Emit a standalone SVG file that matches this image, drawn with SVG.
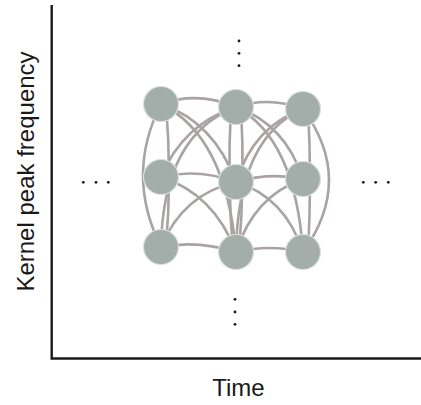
<svg xmlns="http://www.w3.org/2000/svg" width="421" height="405" viewBox="0 0 421 405">
<style>
.axis{stroke:#1a1a1a;stroke-width:2.4;fill:none}
.edge{stroke:#aaa3a3;stroke-width:2.6;fill:none;stroke-linecap:round}
.node{fill:#a3aeaa;stroke:#dbe2de;stroke-width:1.2}
.dot{fill:#1a1a1a}
.lbl{font-family:"Liberation Sans",Arial,sans-serif;font-size:24px;fill:#1a1a1a}
</style>
<rect width="421" height="405" fill="#ffffff"/>
<g id="axes">
<path class="axis" d="M51.7,5 V358.5 H421"/>
</g>
<g id="connectors">
<!-- left column to middle column -->
<path class="edge" d="M161,104 Q198,91 236,107"/>
<path class="edge" d="M161,104 Q214,122 236,182"/>
<path class="edge" d="M161,104 Q226,136 236,252"/>
<path class="edge" d="M161,177 Q183,124 236,107"/>
<path class="edge" d="M161,177 Q198,168 236,182"/>
<path class="edge" d="M161,177 Q214,194 236,252"/>
<path class="edge" d="M161,247 Q163,135 236,107"/>
<path class="edge" d="M161,247 Q183,194 236,182"/>
<path class="edge" d="M161,247 Q198,240 236,252"/>
<!-- middle column to right column -->
<path class="edge" d="M236,107 Q269.5,96 303,109"/>
<path class="edge" d="M236,107 Q285,124 303,179"/>
<path class="edge" d="M236,107 Q295,138 303,252"/>
<path class="edge" d="M236,182 Q254,126 303,109"/>
<path class="edge" d="M236,182 Q269.5,172 303,179"/>
<path class="edge" d="M236,182 Q285,197 303,252"/>
<path class="edge" d="M236,252 Q238,137 303,109"/>
<path class="edge" d="M236,252 Q254,196 303,179"/>
<path class="edge" d="M236,252 Q269.5,244 303,252"/>
<!-- within columns -->
<path class="edge" d="M161,104 Q125,175 161,247"/>
<path class="edge" d="M166,104 Q172,176 166,247"/>
<path class="edge" d="M231,107 Q227,180 233,252"/>
<path class="edge" d="M241,107 Q245,180 239,252"/>
<path class="edge" d="M308,109 Q312,180 308,252"/>
<path class="edge" d="M303,109 Q355,180 303,252"/>
</g>
<g id="node-tl"><circle class="node" cx="161" cy="104" r="17.5"/></g>
<g id="node-tm"><circle class="node" cx="236" cy="107" r="17.5"/></g>
<g id="node-tr"><circle class="node" cx="303" cy="109" r="17.5"/></g>
<g id="node-ml"><circle class="node" cx="161" cy="177" r="17.5"/></g>
<g id="node-mm"><circle class="node" cx="236" cy="182" r="17.5"/></g>
<g id="node-mr"><circle class="node" cx="303" cy="179" r="17.5"/></g>
<g id="node-bl"><circle class="node" cx="161" cy="247" r="17.5"/></g>
<g id="node-bm"><circle class="node" cx="236" cy="252" r="17.5"/></g>
<g id="node-br"><circle class="node" cx="303" cy="252" r="17.5"/></g>
<g id="ellipses">
<circle class="dot" cx="239" cy="41" r="1.4"/>
<circle class="dot" cx="239" cy="53.3" r="1.4"/>
<circle class="dot" cx="239" cy="65.7" r="1.4"/>
<circle class="dot" cx="235" cy="299.3" r="1.4"/>
<circle class="dot" cx="235" cy="312" r="1.4"/>
<circle class="dot" cx="235" cy="324.3" r="1.4"/>
<circle class="dot" cx="83.3" cy="182.3" r="1.4"/>
<circle class="dot" cx="96" cy="182.3" r="1.4"/>
<circle class="dot" cx="108.3" cy="182.3" r="1.4"/>
<circle class="dot" cx="363.3" cy="182.3" r="1.4"/>
<circle class="dot" cx="375.7" cy="182.3" r="1.4"/>
<circle class="dot" cx="388.3" cy="182.3" r="1.4"/>
</g>
<text class="lbl" x="238.5" y="395.5" text-anchor="middle">Time</text>
<text class="lbl" transform="translate(33.5,171.5) rotate(-90)" text-anchor="middle">Kernel peak frequency</text>
</svg>
